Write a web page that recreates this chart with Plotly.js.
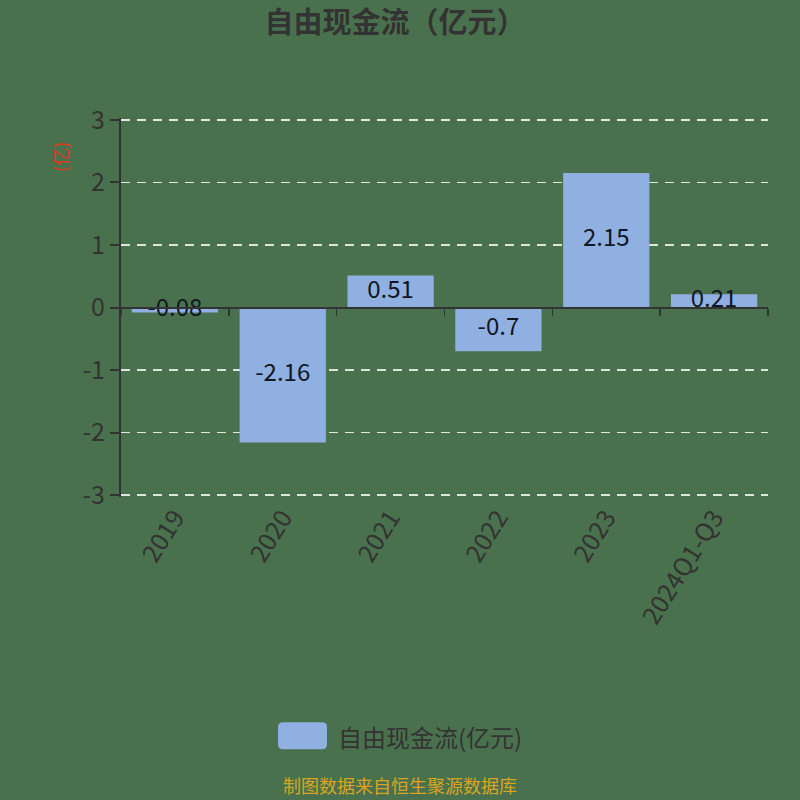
<!DOCTYPE html>
<html>
<head>
<meta charset="utf-8">
<script src="https://cdn.plot.ly/plotly-3.0.1.min.js"></script>
<style>
  html, body { margin: 0; padding: 0; background: #4a714d; }
  #chart { width: 800px; height: 800px; }
</style>
</head>
<body>
<div id="chart"></div>
<script>
const years = ["2019", "2020", "2021", "2022", "2023", "2024Q1-Q3"];
const fcf = [-0.08, -2.16, 0.51, -0.7, 2.15, 0.21];
const seriesName = "自由现金流(亿元)";
const yTicks = [-3, -2, -1, 0, 1, 2, 3];
const yTickText = ["-3", "-2", "-1", "0", "1", "2", "3"];

const FONT = "Noto Sans CJK SC, Noto Sans, sans-serif";
const BG = "#4a714d";
const INK = "#333333";
const BAR = "#8fb0e0";

// y range padded a little so the grid lines at ±3 are still drawn
const PAD = 0.03;
// pixel rows of the ±3 grid lines and x span of the plot
const L = 121, R = 768, Y3 = 120, Yneg3 = 495;
const H = (Yneg3 - Y3) * (6 + 2 * PAD) / 6;
const T = Y3 - (H - (Yneg3 - Y3)) / 2, B = T + H;
const px = x => (x - L) / (R - L);
const py = y => (B - y) / (B - T);

const bars = {
  type: "bar",
  x: years,
  y: fcf,
  width: 0.8,
  name: seriesName,
  marker: { color: BAR },
  showlegend: false,
  hoverinfo: "x+y"
};

// labels sit at the middle of each bar
const labels = {
  type: "scatter",
  mode: "text",
  x: years,
  y: fcf.map(v => v / 2),
  xaxis: "x2",
  text: fcf.map(v => String(v)),
  textposition: "middle center",
  textfont: { family: FONT, size: 24, color: "#111722" },
  showlegend: false,
  hoverinfo: "skip"
};

// rounded legend swatch
function roundRect(x0, y0, x1, y1, r) {
  const rx = r / (R - L), ry = r / (B - T);
  const a = px(x0), b = px(x1), top = py(y0), bot = py(y1);
  return `M${a + rx},${top} L${b - rx},${top} Q${b},${top} ${b},${top - ry} ` +
         `L${b},${bot + ry} Q${b},${bot} ${b - rx},${bot} L${a + rx},${bot} ` +
         `Q${a},${bot} ${a},${bot + ry} L${a},${top - ry} Q${a},${top} ${a + rx},${top} Z`;
}

const layout = {
  width: 800,
  height: 800,
  paper_bgcolor: BG,
  plot_bgcolor: BG,
  margin: { l: L, r: 800 - R, t: T, b: 800 - B },
  font: { family: FONT, color: INK },
  showlegend: false,
  title: {
    text: "<b>自由现金流（亿元）</b>",
    font: { family: FONT, size: 29, color: INK },
    xref: "container", x: 395 / 800, xanchor: "center",
    yref: "container", y: 1 - 23 / 800, yanchor: "middle"
  },
  xaxis: {
    type: "category",
    showline: false,
    showgrid: false,
    ticks: "",
    tickangle: -58,
    tickfont: { size: 25, color: INK },
    range: [-0.5, 5.5]
  },
  xaxis2: {
    type: "category",
    overlaying: "x",
    matches: "x",
    anchor: "free",
    position: 0.5,
    showline: true,
    linecolor: INK,
    linewidth: 2,
    ticks: "outside",
    tickson: "boundaries",
    ticklen: 7,
    tickwidth: 1.5,
    tickcolor: INK,
    showticklabels: false,
    showgrid: false
  },
  yaxis: {
    range: [-3 - PAD, 3 + PAD],
    tickvals: yTicks,
    ticktext: yTickText,
    showline: true,
    linecolor: INK,
    linewidth: 2,
    ticks: "outside",
    ticklen: 9,
    tickwidth: 2,
    tickcolor: INK,
    tickfont: { size: 25, color: INK },
    showgrid: true,
    gridcolor: "#dfe8df",
    griddash: "9px,7px",
    gridwidth: 1.8,
    zeroline: false
  },
  shapes: [
    {
      type: "path",
      xref: "paper", yref: "paper",
      path: roundRect(278, 722, 327, 749, 5),
      fillcolor: BAR,
      line: { width: 0 }
    }
  ],
  annotations: [
    {
      text: "(亿)",
      xref: "paper", yref: "paper",
      x: px(60), y: py(157),
      xanchor: "center", yanchor: "middle",
      textangle: -90,
      showarrow: false,
      font: { family: FONT, size: 18, color: "#e03a1c" }
    },
    {
      text: seriesName,
      xref: "paper", yref: "paper",
      x: px(336), y: py(736),
      xanchor: "left", yanchor: "middle",
      showarrow: false,
      font: { family: FONT, size: 24, color: INK }
    },
    {
      text: "制图数据来自恒生聚源数据库",
      xref: "paper", yref: "paper",
      x: px(400), y: py(785),
      xanchor: "center", yanchor: "middle",
      showarrow: false,
      font: { family: FONT, size: 18, color: "#d9a521" }
    }
  ]
};

Plotly.newPlot("chart", [bars, labels], layout, { displayModeBar: false, staticPlot: true });
</script>
</body>
</html>
